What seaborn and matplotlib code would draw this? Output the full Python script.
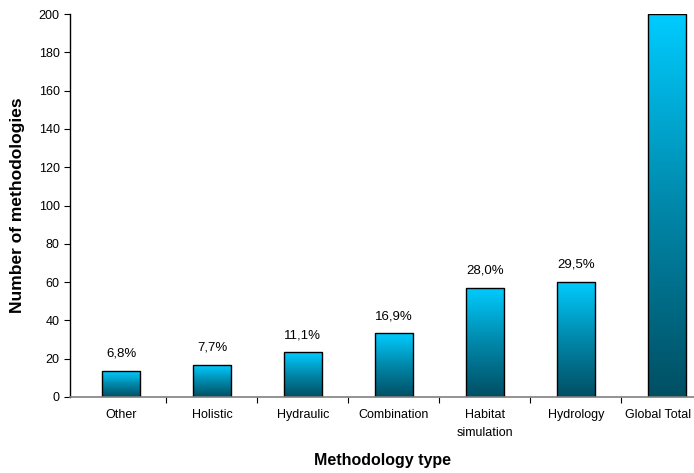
import numpy as np
import pandas as pd
import matplotlib
matplotlib.use("Agg")
import matplotlib.pyplot as plt
import seaborn as sns
from matplotlib.colors import LinearSegmentedColormap
from matplotlib.transforms import ScaledTranslation

# ==============================================
# data
categories = ["Other", "Holistic", "Hydraulic", "Combination",
              "Habitat\nsimulation", "Hydrology", "Global Total"]
counts = [13.5, 16.7, 23.3, 33.2, 57.0, 60.2, 200.0]
pct_labels = ["6,8%", "7,7%", "11,1%", "16,9%", "28,0%", "29,5%", ""]

df = pd.DataFrame({"type": categories, "n": counts})

# ==============================================
sns.set_style("white")
plt.rcParams["font.family"] = ["Liberation Sans", "DejaVu Sans"]
plt.rcParams["text.color"] = "black"
plt.rcParams["axes.labelcolor"] = "black"
plt.rcParams["xtick.color"] = "black"
plt.rcParams["ytick.color"] = "black"

fig = plt.figure(figsize=(6.94, 4.73), dpi=100)
ax = fig.add_axes([0.101, 0.161, 0.899, 0.809])

sns.barplot(data=df, x="type", y="n", width=0.42, color="#00ccff",
            edgecolor="black", linewidth=1.0, ax=ax)

# vertical gradient inside each bar: light cyan on top, dark teal at bottom
cmap = LinearSegmentedColormap.from_list("bar", ["#004f63", "#0088aa", "#00ccff"])
grad = np.linspace(0, 1, 256).reshape(-1, 1)
for patch in ax.patches:
    x0, y0 = patch.get_x(), patch.get_y()
    w, h = patch.get_width(), patch.get_height()
    patch.set_facecolor("none")
    im = ax.imshow(grad, cmap=cmap, origin="lower", aspect="auto",
                   extent=[x0, x0 + w, y0, y0 + h], zorder=patch.get_zorder() - 0.1)
    im.set_clip_path(patch)

for i, (v, lab) in enumerate(zip(counts, pct_labels)):
    if lab:
        ax.annotate(lab, (i, v), xytext=(0, 8), textcoords="offset points",
                    ha="center", va="bottom", fontsize=9.5, color="black")

ax.set_xlim(-0.56, 6.3)
ax.set_ylim(0, 200)
ax.set_yticks(range(0, 201, 20))
ax.set_xticks(range(len(categories)))
ax.set_xticklabels(categories, fontsize=9, linespacing=1.6)
ax.tick_params(axis="y", labelsize=9, length=4, direction="out", left=True, width=0.8)
ax.tick_params(axis="x", length=0, pad=9)
# ticks between the categories
ax.set_xticks(np.arange(0.5, len(categories) - 0.5, 1), minor=True)
ax.tick_params(axis="x", which="minor", length=4, direction="out", bottom=True, width=0.8)

# last label pulled a little left so it stays inside the picture
last = ax.get_xticklabels()[-1]
last.set_transform(last.get_transform() + ScaledTranslation(-9 / 100, 0, fig.dpi_scale_trans))

for s in ["top", "right"]:
    ax.spines[s].set_visible(False)
ax.spines["left"].set_color("black")
ax.spines["bottom"].set_color("#808080")
ax.spines["left"].set_linewidth(1.0)
ax.spines["bottom"].set_linewidth(1.2)

ax.set_xlabel("Methodology type", fontsize=11.5, fontweight="bold", labelpad=10)
ax.set_ylabel("Number of methodologies", fontsize=12.5, fontweight="bold", labelpad=10)

fig.savefig("out.png", dpi=100)
